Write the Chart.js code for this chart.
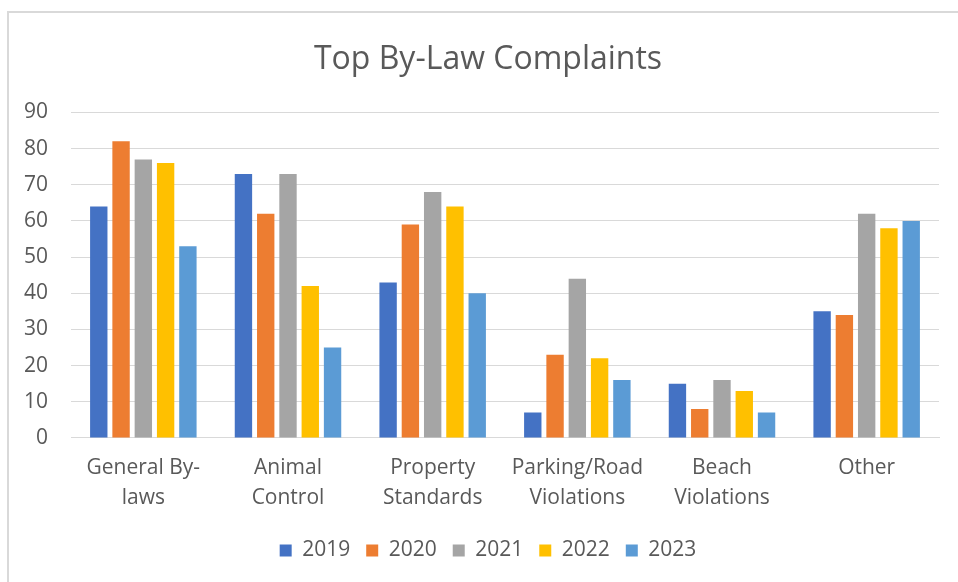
<!DOCTYPE html>
<html>
<head>
<meta charset="utf-8">
<script src="https://cdn.jsdelivr.net/npm/chart.js@4/dist/chart.umd.min.js"></script>
<style>
  html, body { margin: 0; padding: 0; background: #fff; }
  body { width: 958px; height: 582px; position: relative; overflow: hidden; }
  #frame {
    position: absolute; left: 7px; top: 11px; width: 1000px; height: 1000px;
    border-left: 2px solid #d9d9d9; border-top: 2px solid #d9d9d9;
  }
  #wrap { position: absolute; left: 0; top: 0; width: 958px; height: 582px; }
</style>
</head>
<body>
<div id="frame"></div>
<div id="wrap"><canvas id="complaintsChart"></canvas></div>
<script>
const categories = [
    ['General By-', 'laws'],
    ['Animal', 'Control'],
    ['Property', 'Standards'],
    ['Parking/Road', 'Violations'],
    ['Beach', 'Violations'],
    'Other',
];
const years = ['2019', '2020', '2021', '2022', '2023'];
const values2019 = [64, 73, 43, 7, 15, 35];
const values2020 = [82, 62, 59, 23, 8, 34];
const values2021 = [77, 73, 68, 44, 16, 62];
const values2022 = [76, 42, 64, 22, 13, 58];
const values2023 = [53, 25, 40, 16, 7, 60];
const yTicks = { min: 0, max: 90, step: 10 };

const colors = ['#4472C4', '#ED7D31', '#A5A5A5', '#FFC000', '#5B9BD5'];
const series = [values2019, values2020, values2021, values2022, values2023];
const textColor = '#595959';
const fontFamily = "'Open Sans', 'Noto Sans', sans-serif";

document.addEventListener('DOMContentLoaded', () => {
    const ctx = document.getElementById('complaintsChart');

    new Chart(ctx, {
        type: 'bar',
        data: {
            labels: categories,
            datasets: series.map((data, i) => ({
                label: years[i],
                data,
                backgroundColor: colors[i],
                borderWidth: 0,
                barPercentage: 0.78,
                categoryPercentage: 0.77,
            })),
        },
        options: {
            responsive: true,
            maintainAspectRatio: false,
            animation: false,
            layout: { padding: { top: 20, left: 19, right: 1, bottom: 11 } },
            plugins: {
                title: {
                    display: true,
                    text: 'Top By-Law Complaints',
                    color: textColor,
                    font: { family: fontFamily, size: 32, weight: 'normal', lineHeight: 1.2 },
                    padding: { top: 21, bottom: 33 },
                },
                legend: {
                    position: 'bottom',
                    labels: {
                        color: textColor,
                        font: { family: fontFamily, size: 21 },
                        boxWidth: 12,
                        boxHeight: 12,
                        padding: 16,
                    },
                },
                tooltip: { enabled: false },
            },
            scales: {
                x: {
                    grid: { display: false, drawTicks: false },
                    border: { display: true, color: '#d9d9d9', width: 1 },
                    ticks: {
                        color: textColor,
                        font: { family: fontFamily, size: 21, lineHeight: 1.43 },
                        padding: 15,
                        maxRotation: 0,
                        autoSkip: false,
                    },
                    afterFit: (scale) => {
                        scale.paddingLeft = 0;
                        scale.paddingRight = 0;
                        scale.height -= 4;
                    },
                },
                y: {
                    min: yTicks.min,
                    max: yTicks.max,
                    grid: { color: '#d9d9d9', lineWidth: 1, drawTicks: false },
                    border: { display: false },
                    ticks: {
                        stepSize: yTicks.step,
                        color: textColor,
                        font: { family: fontFamily, size: 21 },
                        padding: 23,
                    },
                    afterFit: (scale) => { scale.width = 52; },
                },
                // empty right-hand spacer so the plot ends where the original does
                spacer: {
                    type: 'linear',
                    position: 'right',
                    grid: { display: false, drawTicks: false },
                    border: { display: false },
                    ticks: { display: false },
                    afterFit: (scale) => { scale.width = 18; },
                },
            },
        },
    });
});
</script>
</body>
</html>
